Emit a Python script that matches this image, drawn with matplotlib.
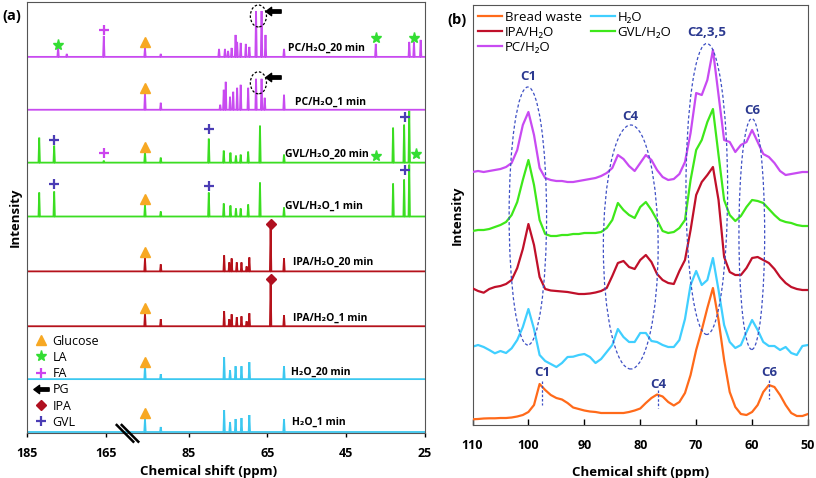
import numpy as np
import matplotlib
matplotlib.use('Agg')
import matplotlib.pyplot as plt
from matplotlib.patches import Ellipse
from matplotlib.lines import Line2D
from matplotlib.path import Path

plt.rcParams['font.family'] = ['Open Sans', 'DejaVu Sans']

# ---------------- panel (a) data : stick spectra (ppm, relative intensity) ----------------
a_labels = ['H₂O_1 min', 'H₂O_20 min', 'IPA/H₂O_1 min', 'IPA/H₂O_20 min',
            'GVL/H₂O_1 min', 'GVL/H₂O_20 min', 'PC/H₂O_1 min', 'PC/H₂O_20 min']
a_offsets = [0, 53, 106, 161, 216, 270, 323, 376]

h2o_1_ppm = [96.1, 92.1, 76.0, 74.5, 73.1, 71.6, 69.6, 60.8]
h2o_1_int = [13, 5, 22, 10, 13, 14, 17, 13]
h2o_20_ppm = [96.1, 92.1, 76.0, 74.5, 73.1, 71.6, 69.6, 60.8]
h2o_20_int = [13, 5, 22, 9, 13, 13, 17, 13]
ipa_1_ppm = [96.1, 92.1, 76.0, 74.7, 74.1, 72.8, 71.6, 70.3, 69.6, 64.2, 60.8]
ipa_1_int = [13, 7, 15, 7, 12, 9, 10, 5, 13, 46, 11]
ipa_20_ppm = [96.1, 92.1, 76.0, 74.7, 74.1, 72.8, 71.6, 70.3, 69.6, 64.2, 60.8]
ipa_20_int = [13, 7, 16, 9, 13, 9, 9, 5, 14, 47, 13]
gvl_1_ppm = [181.9, 178.1, 96.1, 92.1, 79.9, 76.1, 74.4, 73.0, 71.8, 69.9, 66.9, 60.8, 33.1, 30.3, 29.0]
gvl_1_int = [24, 25, 12, 5, 24, 13, 11, 8, 8, 12, 34, 9, 33, 37, 52]
gvl_20_ppm = [181.9, 178.1, 165.5, 96.1, 92.1, 79.9, 76.1, 74.4, 73.0, 71.8, 69.9, 66.9, 60.8, 33.1, 30.3, 29.0]
gvl_20_int = [25, 17, 2, 11, 5, 24, 12, 10, 7, 8, 11, 37, 8, 35, 38, 52]
pc_1_ppm = [96.1, 92.1, 77.0, 76.1, 75.6, 74.5, 73.7, 72.7, 71.8, 69.9, 67.9, 66.5, 65.7, 60.8]
pc_1_int = [17, 7, 5, 20, 28, 13, 18, 22, 25, 22, 31, 31, 12, 15]
pc_20_ppm = [177.1, 174.9, 165.5, 96.1, 92.1, 77.3, 75.8, 75.0, 74.1, 73.1, 72.7, 71.8, 70.5,
             69.6, 67.9, 66.5, 65.5, 60.8, 37.5, 29.0, 27.8, 26.1]
pc_20_int = [10, 3, 21, 9, 3, 8, 8, 6, 9, 22, 15, 14, 13, 10, 46, 46, 22, 8, 13, 15, 15, 17]

a_ppm = [h2o_1_ppm, h2o_20_ppm, ipa_1_ppm, ipa_20_ppm, gvl_1_ppm, gvl_20_ppm, pc_1_ppm, pc_20_ppm]
a_int = [h2o_1_int, h2o_20_int, ipa_1_int, ipa_20_int, gvl_1_int, gvl_20_int, pc_1_int, pc_20_int]

# marker annotations (ppm, stacked intensity)
glucose_pts = [(96.1, 19), (96.1, 70), (96.1, 124), (96.1, 180), (96.1, 234), (96.1, 286), (96.1, 345), (96.1, 391)]
la_pts = [(177.1, 388), (37.5, 395), (27.8, 395), (37.5, 277), (27.3, 279)]
fa_pts = [(165.5, 403), (165.5, 280)]
gvl_pts = [(178.1, 293), (79.9, 304), (30.1, 316), (178.1, 249), (79.9, 247), (30.1, 263)]
ipa_pts = [(64.2, 208), (64.2, 153)]
pg_pts = [(63.6, 422), (63.6, 356)]

# ---------------- panel (b) data ----------------
b_ppm = np.arange(110, 49, -1)
bread = [0.57, 0.60, 0.65, 0.67, 0.67, 0.70, 0.70, 0.75, 0.85, 1.00,
         1.30, 2.00, 4.10, 3.50, 3.00, 2.70, 2.55, 2.20, 1.75, 1.60,
         1.45, 1.35, 1.30, 1.20, 1.20, 1.20, 1.20, 1.20, 1.30, 1.45,
         1.65, 2.20, 2.70, 3.05, 2.85, 2.30, 1.95, 2.30, 3.20, 5.00,
         7.50, 9.50, 11.70, 13.70, 10.50, 6.50, 3.30, 1.80, 1.10, 1.00,
         1.30, 2.00, 3.30, 4.00, 3.80, 3.00, 2.00, 1.20, 0.90, 0.90,
         1.10]
water = [7.83, 8.0, 7.8, 7.5, 7.17, 7.4, 7.2, 7.67, 8.5, 9.8,
         11.6, 9.6, 7.0, 6.4, 6.1, 5.8, 6.2, 6.8, 6.83, 7.0,
         7.1, 6.8, 6.2, 6.6, 7.3, 8.0, 9.6, 8.8, 8.3, 8.3,
         9.2, 9.2, 8.4, 8.3, 8.0, 7.8, 7.8, 8.5, 10.6, 14.0,
         15.4, 14.0, 14.5, 16.7, 13.5, 10.0, 8.3, 7.7, 8.0, 9.3,
         10.5, 9.5, 8.3, 7.9, 7.9, 7.5, 7.8, 7.2, 7.0, 7.9,
         8.0]
ipa = [13.67, 13.4, 13.23, 13.6, 13.8, 13.9, 14.1, 14.5, 15.7, 17.6,
       20.1, 18.0, 14.8, 13.6, 13.45, 13.4, 13.35, 13.3, 13.2, 13.1,
       13.1, 13.15, 13.25, 13.4, 13.7, 14.9, 16.2, 16.4, 15.8, 15.6,
       16.5, 17.0, 16.3, 15.1, 14.5, 14.2, 14.1, 15.4, 16.5, 19.5,
       23.0, 24.3, 25.0, 25.8, 22.5, 16.8, 15.3, 15.0, 15.0, 15.7,
       16.7, 16.8, 16.5, 16.2, 15.6, 14.8, 14.2, 13.8, 13.6, 13.5,
       13.5]
gvl = [19.4, 19.5, 19.5, 19.6, 19.8, 20.0, 20.3, 21.0, 22.3, 24.5,
       26.5, 24.0, 20.5, 19.1, 18.9, 18.9, 19.0, 19.0, 19.1, 19.1,
       19.2, 19.2, 19.2, 19.3, 19.7, 20.5, 22.2, 21.5, 21.0, 20.7,
       21.8, 22.3, 21.5, 20.5, 19.4, 19.2, 19.3, 19.7, 20.5, 24.5,
       27.5, 28.5, 30.3, 31.6, 27.0, 22.5, 21.0, 20.4, 20.9, 21.8,
       22.5, 22.4, 22.2, 21.6, 21.0, 20.5, 20.3, 20.2, 20.0, 19.9,
       19.9]
pc = [25.3, 25.4, 25.3, 25.4, 25.5, 25.6, 25.8, 26.2, 27.5, 30.0,
      31.3, 29.0, 25.7, 24.7, 24.5, 24.4, 24.4, 24.3, 24.3, 24.4,
      24.5, 24.6, 24.7, 24.9, 25.2, 25.7, 27.0, 26.6, 25.9, 25.4,
      26.2, 27.0, 26.5, 25.5, 24.8, 24.5, 24.6, 25.1, 26.3, 29.2,
      33.2, 33.0, 34.5, 37.5, 33.0, 28.5, 28.3, 27.3, 28.0, 28.3,
      29.5, 28.3, 27.1, 26.8, 26.2, 25.4, 25.0, 25.1, 25.2, 25.3,
      25.3]
b_names = ['Bread waste', 'IPA/H₂O', 'PC/H₂O', 'H₂O', 'GVL/H₂O']

# ---------------- styles ----------------
a_colors = ['#3CC8F0', '#3CC8F0', '#B5121B', '#B5121B', '#3BDD22', '#3BDD22', '#C84BF0', '#C84BF0']
c_orange, c_cyan, c_red, c_green, c_purple = '#FF6A1A', '#40CFFF', '#C0102A', '#3EE81A', '#C84BF2'
c_glu, c_la, c_fa, c_gvl, c_ipa = '#F7A823', '#33DD33', '#CC44EE', '#4B3DB5', '#B01020'
c_dash, c_lab = '#3D4FC4', '#2B3990'
arrow_marker = Path([(-1, 0), (-0.25, 0.55), (-0.25, 0.22), (1, 0.22), (1, -0.22),
                     (-0.25, -0.22), (-0.25, -0.55), (-1, 0)], closed=True)

fig = plt.figure(figsize=(8.16, 4.78), dpi=100)
W, H = 816, 478

# ---------------- panel (a) ----------------
axa = fig.add_axes([27 / W, (H - 433) / H, 398 / W, 431 / H])
A, B, K = 100.0, 159.0, 0.001


def fwd(x):
    x = np.asarray(x, float)
    return np.where(x <= A, x, np.where(x <= B, A + (x - A) * K, A + (B - A) * K + (x - B)))


def inv(u):
    u = np.asarray(u, float)
    ub = A + (B - A) * K
    return np.where(u <= A, u, np.where(u <= ub, A + (u - A) / K, B + (u - ub)))


axa.set_xscale('function', functions=(fwd, inv))

for ppm, inten, off, col in zip(a_ppm, a_int, a_offsets, a_colors):
    order = np.argsort(ppm)[::-1]
    xs, ys = [185.0], [0.0]
    for i in order:
        xs += [ppm[i] + 0.18, ppm[i], ppm[i] - 0.18]
        ys += [0.0, inten[i], 0.0]
    xs.append(25.0)
    ys.append(0.0)
    axa.plot(xs, np.array(ys) + off, color=col, lw=1.3, solid_joinstyle='miter', zorder=2)

lab_pos = [(58.8, 10), (59.1, 60), (58.6, 114), (58.6, 170), (60.6, 226), (60.6, 278), (58.0, 331), (59.8, 385)]
for (x, y), t in zip(lab_pos, a_labels):
    axa.text(x, y, t, fontsize=7.5, fontweight='bold', ha='left', va='center', zorder=4)

mk = dict(linestyle='none', zorder=5)
axa.plot(*zip(*glucose_pts), marker='^', color=c_glu, ms=6.5, **mk)
axa.plot(*zip(*la_pts), marker='*', color=c_la, ms=8, **mk)
axa.plot(*zip(*fa_pts), marker='+', color=c_fa, ms=7, mew=1.6, **mk)
axa.plot(*zip(*gvl_pts), marker='+', color=c_gvl, ms=7, mew=1.6, **mk)
axa.plot(*zip(*ipa_pts), marker='D', color=c_ipa, ms=5.5, **mk)
axa.plot(*zip(*pg_pts), marker=arrow_marker, color='black', ms=11, **mk)

for cy in (417, 350):
    axa.add_patch(Ellipse((67.3, cy), width=4.1, height=22, fill=False, ls=(0, (2, 1.5)),
                          lw=0.9, ec='black', zorder=3))

axa.set_xlim(185, 25)
axa.set_ylim(-1, 431)
axa.set_xticks([185, 165, 85, 65, 45, 25])
axa.set_xticklabels(['185', '165', '85', '65', '45', '25'])
axa.minorticks_off()
axa.set_yticks([])
axa.tick_params(axis='x', direction='out', length=3, width=1, labelsize=9, pad=7)
for lbl in axa.get_xticklabels():
    lbl.set_fontweight('bold')
for s in axa.spines.values():
    s.set_color('#555555')
axa.set_xlabel('Chemical shift (ppm)', fontsize=9.5, fontweight='bold', labelpad=3)
axa.xaxis.set_label_coords(0.455, -0.075)
axa.set_ylabel('Intensity', fontsize=9.5, fontweight='bold', labelpad=4)

leg_a = [Line2D([], [], ls='none', marker='^', color=c_glu, ms=6.5, label='Glucose'),
         Line2D([], [], ls='none', marker='*', color=c_la, ms=8, label='LA'),
         Line2D([], [], ls='none', marker='+', color=c_fa, ms=7, mew=1.6, label='FA'),
         Line2D([], [], ls='none', marker=arrow_marker, color='black', ms=11, label='PG'),
         Line2D([], [], ls='none', marker='D', color=c_ipa, ms=5.5, label='IPA'),
         Line2D([], [], ls='none', marker='+', color=c_gvl, ms=7, mew=1.6, label='GVL')]
axa.legend(handles=leg_a, loc='upper left', bbox_to_anchor=(0.005, 0.243), frameon=False,
           fontsize=9, handlelength=1.0, handletextpad=0.4, labelspacing=0.26, borderpad=0)

# axis break marks
for x0 in (116.7, 121.7):
    fig.add_artist(Line2D([x0 / W, (x0 + 16.6) / W], [1 - 425 / H, 1 - 441.7 / H],
                          color='black', lw=1.8))

fig.text(2 / W, 1 - 16 / H, '(a)', fontsize=10.5, fontweight='bold', va='center', ha='left')

# ---------------- panel (b) ----------------
axb = fig.add_axes([472.5 / W, (H - 425) / H, 335.5 / W, 420 / H])
series = [bread, ipa, pc, water, gvl]
cols = [c_orange, c_red, c_purple, c_cyan, c_green]
zs = [3, 3, 3, 2, 3]
for y, c, n, z in zip(series, cols, b_names, zs):
    axb.plot(b_ppm, y, color=c, lw=1.6, label=n, zorder=z)

ell = [((100.1, 20.9), 6.7, 25.8), ((81.7, 17.8), 9.8, 24.4),
       ((68.1, 23.6), 7.45, 29.1), ((60.05, 19.1), 4.6, 23.1)]
for (cx, cy), w, h in ell:
    axb.add_patch(Ellipse((cx, cy), width=w, height=h, fill=False, ec=c_dash,
                          ls=(0, (2.5, 1.8)), lw=0.9, zorder=4))

top_labels = [(100.1, 34.9, 'C1'), (81.7, 30.8, 'C4'), (68.1, 39.3, 'C2,3,5'), (60.0, 31.4, 'C6')]
for x, y, t in top_labels:
    axb.text(x, y, t, color=c_lab, fontsize=9.5, fontweight='bold', ha='center', va='center', zorder=5)

bot_labels = [(97.6, 5.2, 4.45, 2.0, 'C1'), (76.8, 4.1, 3.5, 1.7, 'C4'), (56.9, 5.2, 4.5, 2.6, 'C6')]
for x, yt, y1, y2, t in bot_labels:
    axb.text(x, yt, t, color=c_lab, fontsize=9.5, fontweight='bold', ha='center', va='center', zorder=5)
    axb.plot([x, x], [y1, y2], color=c_dash, ls=(0, (2, 1.5)), lw=0.9, zorder=4)

axb.set_xlim(110, 50)
axb.set_ylim(0, 42)
axb.set_xticks(np.arange(110, 49, -10))
axb.set_yticks([])
axb.tick_params(axis='x', direction='in', length=4, width=1, labelsize=9, pad=10)
for lbl in axb.get_xticklabels():
    lbl.set_fontweight('bold')
for s in axb.spines.values():
    s.set_color('#555555')
axb.set_xlabel('Chemical shift (ppm)', fontsize=9.5, fontweight='bold', labelpad=10)
axb.set_ylabel('Intensity', fontsize=9.5, fontweight='bold', labelpad=6)
axb.legend(loc='upper left', bbox_to_anchor=(0.0, 1.0), ncol=2, frameon=False, fontsize=9.5,
           handlelength=1.8, handletextpad=0.2, columnspacing=0.7, labelspacing=0.15,
           borderpad=0.25, borderaxespad=0.2)

fig.text(447 / W, 1 - 20 / H, '(b)', fontsize=10.5, fontweight='bold', va='center', ha='left')

fig.savefig('out.png', dpi=100)
